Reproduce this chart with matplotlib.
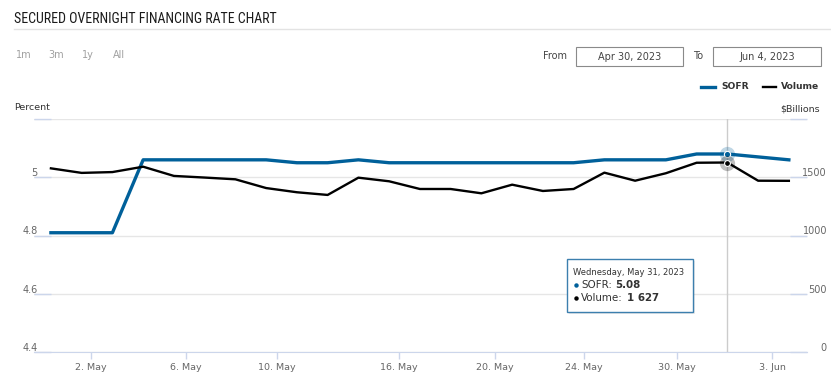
import numpy as np
import matplotlib
matplotlib.use('Agg')
from matplotlib import pyplot as plt
from matplotlib import font_manager
from matplotlib.lines import Line2D
from matplotlib.patches import Rectangle
import matplotlib.transforms as mtransforms

# business days shown on the ordinal axis (1 May .. 2 Jun 2023)
dates = ['May 1', 'May 2', 'May 3', 'May 4', 'May 5',
         'May 8', 'May 9', 'May 10', 'May 11', 'May 12',
         'May 15', 'May 16', 'May 17', 'May 18', 'May 19',
         'May 22', 'May 23', 'May 24', 'May 25', 'May 26',
         'May 29', 'May 30', 'May 31', 'Jun 1', 'Jun 2']
sofr = [4.81, 4.81, 4.81, 5.06, 5.06,
        5.06, 5.06, 5.06, 5.05, 5.05,
        5.06, 5.05, 5.05, 5.05, 5.05,
        5.05, 5.05, 5.05, 5.06, 5.06,
        5.06, 5.08, 5.08, 5.07, 5.06]
volume = [1577, 1538, 1545, 1591, 1512,
          1498, 1483, 1408, 1372, 1349,
          1497, 1466, 1400, 1400, 1363,
          1437, 1383, 1400, 1540, 1471,
          1535, 1625, 1627, 1471, 1470]
xtick_labels = ['2. May', '6. May', '10. May', '16. May', '20. May', '24. May', '30. May', '3. Jun']
left_ticks = [4.4, 4.6, 4.8, 5.0]
left_labels = ['4.4', '4.6', '4.8', '5']
right_ticks = [0, 500, 1000, 1500]
right_labels = ['0', '500', '1000', '1500']
hover = 22  # May 31

blue = '#00609a'
W, H = 831, 378

names = {f.name for f in font_manager.fontManager.ttflist}
title_font = 'DejaVu Sans'
for cand in ['Roboto Condensed', 'Liberation Sans Narrow', 'Liberation Sans']:
    if cand in names:
        title_font = cand
        break
title_size = 9.2 if title_font == 'Liberation Sans' else 10


def fx(p):
    return p / W


def fy(p):
    return 1 - p / H


fig = plt.figure(figsize=(W / 100, H / 100), dpi=100)
fig.patch.set_facecolor('white')

ax = fig.add_axes([fx(34), fy(352.3), 773 / W, 233.3 / H])
ax.set_xlim(-0.55, 24.59)
ax.set_ylim(4.4, 5.2)
ax2 = ax.twinx()
ax2.set_ylim(0, 2000)

x = np.arange(len(dates))
ax.axvline(hover, color='#cccccc', lw=1, zorder=1)
ax.plot(x, sofr, color=blue, lw=2.4, zorder=3, solid_joinstyle='round')
ax2.plot(x, volume, color='black', lw=1.7, zorder=3, solid_joinstyle='round')

# hover markers
ax.plot(hover, sofr[hover], 'o', ms=11, color=blue, alpha=0.25, mec='none', zorder=4)
ax.plot(hover, sofr[hover], 'o', ms=4.5, color=blue, mec='white', mew=0.8, zorder=5)
ax2.plot(hover, volume[hover], 'o', ms=11, color='black', alpha=0.25, mec='none', zorder=4)
ax2.plot(hover, volume[hover], 'o', ms=4.2, color='black', mec='white', mew=0.8, zorder=5)

# grid + axes styling
ax.set_yticks([4.4, 4.6, 4.8, 5.0, 5.2])
ax.grid(axis='y', color='#e6e6e6', lw=1)
ax.set_axisbelow(True)
ax.tick_params(axis='y', direction='in', length=12, width=1, color='#ccd6eb', labelleft=False)
ax2.set_yticks([0, 500, 1000, 1500, 2000])
ax2.tick_params(axis='y', direction='in', length=12, width=1, color='#ccd6eb', labelright=False)
for s in ['top', 'left', 'right']:
    ax.spines[s].set_visible(False)
for s in ['top', 'left', 'right', 'bottom']:
    ax2.spines[s].set_visible(False)
ax.spines['bottom'].set_color('#ccd6eb')

ax.set_xticks([1.30, 4.40, 7.34, 11.33, 14.44, 17.34, 20.36, 23.46], xtick_labels)
ax.tick_params(axis='x', length=5, width=1, color='#ccd6eb', labelcolor='#666666',
               labelsize=6.8, pad=3)

trl = mtransforms.blended_transform_factory(ax.transAxes, ax.transData)
for v, lab in zip(left_ticks, left_labels):
    ax.text(3.5 / 773, v + 0.004, lab, transform=trl, ha='right', va='baseline',
            fontsize=7, color='#666666')
trr = mtransforms.blended_transform_factory(ax2.transAxes, ax2.transData)
for v, lab in zip(right_ticks, right_labels):
    ax2.text((827 - 34) / 773, v + 10, lab, transform=trr, ha='right', va='baseline',
             fontsize=7, color='#666666')

# header
fig.text(fx(14), fy(19), 'SECURED OVERNIGHT FINANCING RATE CHART', fontsize=title_size,
         family=title_font, color='#1a1a1a', va='center')
fig.add_artist(Line2D([fx(14), 1], [fy(29.3), fy(29.3)], color='#e3e3e3', lw=1))
for xp, lab in zip([16, 48, 82, 113], ['1m', '3m', '1y', 'All']):
    fig.text(fx(xp), fy(55), lab, fontsize=7, color='#a0a0a0', va='center')

fig.text(fx(543), fy(56), 'From', fontsize=7, color='#444444', va='center')
fig.add_artist(Rectangle((fx(576), fy(66)), 107 / W, 19 / H, facecolor='white',
                         edgecolor='#8a8a8a', lw=0.8))
fig.text(fx(629.5), fy(56.5), 'Apr 30, 2023', fontsize=7, color='#444444', ha='center', va='center')
fig.text(fx(693), fy(56), 'To', fontsize=7, color='#444444', va='center')
fig.add_artist(Rectangle((fx(713), fy(66)), 108 / W, 19 / H, facecolor='white',
                         edgecolor='#8a8a8a', lw=0.8))
fig.text(fx(767), fy(56.5), 'Jun 4, 2023', fontsize=7, color='#444444', ha='center', va='center')

# legend
fig.add_artist(Line2D([fx(701), fx(715)], [fy(86.5), fy(86.5)], color=blue, lw=2.4))
fig.text(fx(721), fy(86.5), 'SOFR', fontsize=6.6, fontweight='bold', color='#333333', va='center')
fig.add_artist(Line2D([fx(763), fx(776)], [fy(86.5), fy(86.5)], color='black', lw=1.7))
fig.text(fx(781), fy(86.5), 'Volume', fontsize=6.6, fontweight='bold', color='#333333', va='center')

fig.text(fx(14), fy(108), 'Percent', fontsize=6.8, color='#333333', va='center')
fig.text(fx(820), fy(109), '$Billions', fontsize=6.8, color='#333333', va='center', ha='right')

# tooltip
fig.add_artist(Rectangle((fx(569), fy(314)), 126 / W, 53 / H, facecolor='black',
                         alpha=0.08, edgecolor='none'))
fig.add_artist(Rectangle((fx(567), fy(312)), 126 / W, 53 / H, facecolor='white',
                         edgecolor='#3c7fae', lw=1))
fig.text(fx(573), fy(272.5), 'Wednesday, May 31, 2023', fontsize=6, color='#333333', va='center')
fig.add_artist(Line2D([fx(576)], [fy(284.7)], marker='o', ms=3.2, color=blue, mec='none'))
fig.text(fx(581), fy(284.7), 'SOFR:', fontsize=7.4, color='#333333', va='center')
fig.text(fx(615), fy(284.7), '%.2f' % sofr[hover], fontsize=7.4, fontweight='bold',
         color='#333333', va='center')
fig.add_artist(Line2D([fx(576)], [fy(297.7)], marker='o', ms=3.2, color='black', mec='none'))
fig.text(fx(581), fy(297.7), 'Volume:', fontsize=7.4, color='#333333', va='center')
fig.text(fx(627), fy(297.7), '{:,}'.format(volume[hover]).replace(',', ' '), fontsize=7.4,
         fontweight='bold', color='#333333', va='center')

fig.savefig('out.png', dpi=100)
